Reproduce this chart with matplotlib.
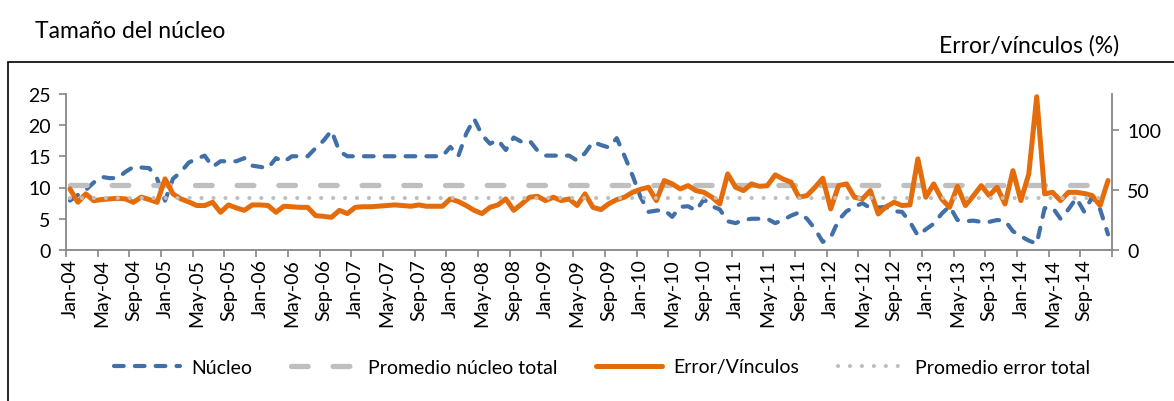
import numpy as np
import pandas as pd
import matplotlib
matplotlib.use('Agg')
import matplotlib.pyplot as plt
from matplotlib.patches import Rectangle

# Monthly series, Jan-2004 .. Dec-2014
months = pd.date_range('2004-01-01', periods=132, freq='MS')

nucleo = [
    7.9, 8.8, 9.6, 10.8, 11.7, 11.5, 11.5, 12.5, 13.3, 13.2, 13.1, 11.4,      # 2004
    7.9, 11.4, 12.5, 14.0, 14.6, 15.1, 13.3, 14.2, 14.2, 14.2, 14.7, 13.5,    # 2005
    13.3, 13.1, 14.7, 14.1, 15.0, 15.0, 15.0, 16.3, 17.5, 19.1, 15.8, 15.0,   # 2006
    15.0, 15.0, 15.0, 15.0, 15.0, 15.0, 15.0, 15.0, 15.0, 15.0, 15.0, 15.0,   # 2007
    16.5, 15.0, 18.6, 21.0, 18.4, 17.0, 17.6, 16.0, 18.0, 17.3, 17.5, 15.9,   # 2008
    15.1, 15.1, 15.1, 15.1, 14.3, 15.5, 17.3, 16.8, 16.4, 17.9, 15.0, 11.9,   # 2009
    8.5, 6.1, 6.3, 6.4, 5.3, 6.9, 7.0, 6.3, 8.1, 7.0, 6.5, 4.6,               # 2010
    4.3, 4.8, 5.0, 5.0, 5.0, 4.3, 4.8, 5.5, 6.0, 5.0, 3.4, 1.3,               # 2011
    2.0, 4.8, 6.2, 6.9, 7.5, 6.7, 6.8, 6.9, 6.2, 6.1, 4.5, 2.3,               # 2012
    3.3, 4.2, 5.8, 7.0, 4.8, 4.6, 4.7, 4.5, 4.5, 4.8, 4.7, 3.0,               # 2013
    2.2, 1.5, 1.0, 6.7, 6.8, 5.0, 6.5, 8.3, 6.1, 8.5, 6.5, 2.5,               # 2014
]

error = [
    50.8, 39.7, 46.7, 41.0, 42.0, 42.5, 43.0, 42.5, 39.7, 44.0, 42.0, 39.7,   # 2004
    59.2, 46.7, 42.5, 40.0, 37.0, 37.0, 39.7, 31.4, 37.5, 35.0, 33.0, 37.5,   # 2005
    37.5, 37.0, 31.4, 36.4, 36.0, 35.5, 35.5, 28.6, 28.0, 27.2, 33.0, 30.3,   # 2006
    35.5, 36.0, 36.0, 36.5, 37.0, 37.5, 37.0, 36.4, 37.5, 36.4, 36.4, 36.4,   # 2007
    42.5, 40.3, 37.0, 33.0, 30.3, 35.5, 37.5, 42.5, 33.0, 38.3, 43.9, 44.7,   # 2008
    41.1, 43.9, 41.1, 42.5, 37.0, 46.7, 35.5, 33.6, 38.5, 41.9, 44.0, 48.0,   # 2009
    50.5, 52.2, 41.1, 57.8, 55.0, 50.8, 53.6, 49.4, 48.0, 44.0, 38.3, 63.3,   # 2010
    52.2, 49.4, 55.0, 53.0, 53.5, 62.5, 59.0, 56.4, 43.9, 45.3, 52.0, 59.7,   # 2011
    34.2, 53.6, 55.0, 43.9, 42.5, 49.4, 30.0, 36.0, 39.7, 37.0, 37.5, 75.8,   # 2012
    43.9, 55.0, 42.5, 35.5, 53.0, 37.0, 45.0, 53.6, 45.3, 52.2, 38.3, 66.0,   # 2013
    41.1, 63.3, 127.5, 46.7, 48.0, 41.1, 48.0, 48.0, 47.0, 45.3, 37.0, 57.8,  # 2014
]

nucleo_avg = 10.45
error_avg = 43.3

tick_labels = list(months[::4].strftime('%b-%y'))

blue = '#4170A9'
orange = '#E46C0A'
grey = '#BFBFBF'
axis_grey = '#868686'

plt.rcParams['font.family'] = ['Lato', 'DejaVu Sans']
plt.rcParams['lines.scale_dashes'] = False

W, H = 1174, 402
fig = plt.figure(figsize=(W / 100, H / 100), dpi=100)
ax = fig.add_axes([66 / W, 1 - 251 / H, (1112 - 66) / W, (251 - 94.75) / H])
ax2 = ax.twinx()

x = np.arange(len(months))

l1, = ax.plot(x, nucleo, color=blue, lw=3.0, dashes=(7, 8), dash_capstyle='round',
              solid_joinstyle='round', label='Núcleo')
l2, = ax.plot(x, np.full(len(x), nucleo_avg), color=grey, lw=3.8, dashes=(12, 18),
              dash_capstyle='round', label='Promedio núcleo total')
l3, = ax2.plot(x, error, color=orange, lw=3.6, solid_joinstyle='round',
               solid_capstyle='round', label='Error/Vínculos')
l4, = ax2.plot(x, np.full(len(x), error_avg), color=grey, lw=3.0, dashes=(0.01, 8.6),
               dash_capstyle='round', label='Promedio error total')

ax.set_xlim(-0.5, len(x) - 0.5)
ax.set_ylim(0, 25)
ax2.set_ylim(0, 130)
ax.set_yticks([0, 5, 10, 15, 20, 25])
ax2.set_yticks([0, 50, 100])

# category boundary ticks every 4 months, labels centered on category
ax.set_xticks(np.arange(-0.5, len(x), 4))
ax.set_xticklabels([])
ax.set_xticks(x[::4], minor=True)
ax.set_xticklabels(tick_labels, minor=True, rotation=90)
ax.tick_params(axis='x', which='major', length=5, color=axis_grey, width=1.2)
ax.tick_params(axis='x', which='minor', length=0, labelsize=14, pad=6)
ax.tick_params(axis='y', length=5, color=axis_grey, width=1.2, labelsize=14, pad=6)
ax2.tick_params(axis='y', length=5, color=axis_grey, width=1.2, labelsize=14, pad=6)

for a in (ax, ax2):
    for s in a.spines.values():
        s.set_visible(False)
ax.spines['left'].set_visible(True)
ax.spines['bottom'].set_visible(True)
ax2.spines['right'].set_visible(True)
for s in (ax.spines['left'], ax.spines['bottom'], ax2.spines['right']):
    s.set_color(axis_grey)
    s.set_linewidth(1.3)

fig.text(35 / W, 1 - 31 / H, 'Tamaño del núcleo', fontsize=16.5, va='center', ha='left')
fig.text(1119 / W, 1 - 46 / H, 'Error/vínculos (%)', fontsize=16.5, va='center', ha='right')

fig.legend(handles=[l1, l2, l3, l4], loc='center', bbox_to_anchor=(602 / W, 1 - 368 / H),
           ncol=4, frameon=False, fontsize=14, handlelength=3.4, columnspacing=2.0,
           handletextpad=0.55)

# chart area border (clipped at right/bottom of the picture)
fig.patches.append(Rectangle((8 / W, -0.05), 1.2, 1.05 - 63 / H, transform=fig.transFigure,
                             fill=False, edgecolor='black', lw=1.2))

fig.savefig('out.png', dpi=100)
